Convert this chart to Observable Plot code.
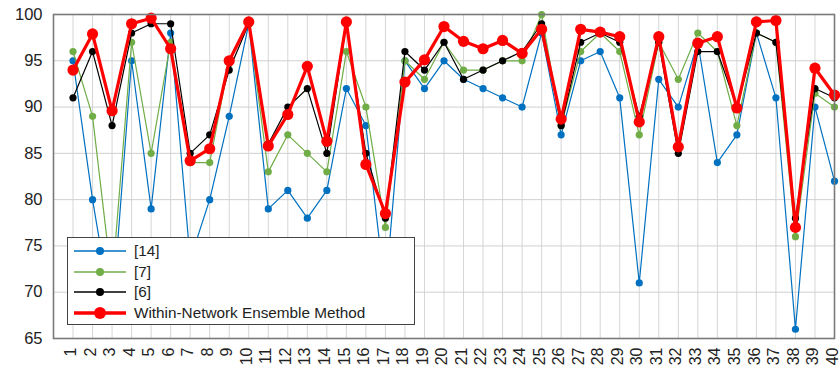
<!DOCTYPE html>
<html><head><meta charset="utf-8">
<script src="https://cdn.jsdelivr.net/npm/d3@7"></script>
<script src="https://cdn.jsdelivr.net/npm/@observablehq/plot@0.6"></script>
<style>
body{margin:0;background:#fff;font-family:"Liberation Sans",Arial,sans-serif;overflow:hidden;}
#wrap{position:relative;width:840px;height:370px;}
#wrap svg{overflow:visible;}
#legend{position:absolute;left:67px;top:237px;width:348px;height:88px;background:#fff;border:1px solid #444;box-sizing:border-box;}
.row{position:absolute;left:0;height:20px;display:flex;align-items:center;}
.row svg{display:block;margin-left:5px;}
.row span{margin-left:7px;font-size:15.3px;color:#222;white-space:nowrap;}
</style></head>
<body><div id="wrap"></div>
<script>
const categories = [1,2,3,4,5,6,7,8,9,10,11,12,13,14,15,16,17,18,19,20,21,22,23,24,25,26,27,28,29,30,31,32,33,34,35,36,37,38,39,40];
const s14 = [95,80,67.5,95,79,98,73.5,80,89,99,79,81,78,81,92,88,70,95,92,95,93,92,91,90,98,87,95,96,91,71,93,90,97,84,87,98,91,66,90,82];
const s7  = [96,89,71,97,85,97,84,84,95,99,83,87,85,83,96,90,77,95,93,97,94,94,95,95,100,88,96,98,96,87,97,93,98,96,88,98,97,76,91.5,90];
const s6  = [91,96,88,98,99,99,85,87,94,99,86,90,92,85,99,85,78,96,94,97,93,94,95,96,99,88,97,98,97,89,97,85,96,96,90,98,97,78,92,91];
const ens = [94,97.9,89.6,99,99.6,96.3,84.2,85.5,95,99.2,85.8,89.2,94.4,86.3,99.2,83.8,78.5,92.7,95.1,98.7,97.1,96.3,97.2,95.8,98.4,88.7,98.4,98.1,97.6,88.4,97.6,85.7,96.9,97.6,89.9,99.2,99.35,77,94.2,91.3];
const seriesNames = ["[14]","[7]","[6]","Within-Network Ensemble Method"];
const seriesColors = ["#0070C0","#70AD47","#000000","#FF0000"];
const yTicks = [65,70,75,80,85,90,95,100];

const allSeries = [s14, s7, s6, ens];
const lineWidths = [1.2, 1.2, 1.2, 3.2];
const dotRadii = [3.6, 3.6, 3.6, 5.6];

const marks = [
  Plot.gridX(categories, {stroke:"#d6d6d6", strokeOpacity:1, strokeWidth:1}),
  Plot.gridY(yTicks, {stroke:"#d0d0d0", strokeOpacity:1, strokeWidth:1}),
];
allSeries.forEach((vals, k) => {
  const data = categories.map((c, i) => ({c, v: vals[i]}));
  marks.push(Plot.line(data, {x:"c", y:"v", stroke: seriesColors[k], strokeWidth: lineWidths[k]}));
  marks.push(Plot.dot(data, {x:"c", y:"v", fill: seriesColors[k], r: dotRadii[k], stroke:"none"}));
});
marks.push(Plot.frame({stroke:"#7a7a7a", strokeWidth:1.6}));

const chart = Plot.plot({
  width: 840,
  height: 370,
  marginLeft: 53,
  marginRight: 6,
  marginTop: 14,
  marginBottom: 32,
  style: {fontFamily:'"Liberation Sans", Arial, sans-serif', background:"#fff", overflow:"visible"},
  x: {type:"linear", domain:[0,40], label:null},
  y: {domain:[65,100], label:null},
  marks: [
    ...marks,
    Plot.axisX({ticks: categories, tickFormat: d => String(d), tickRotate:-90, tickSize:0, tickPadding:9, dx:-2, label:null, fontSize:16, fill:"#222"}),
    Plot.axisY({ticks: yTicks, tickSize:0, tickPadding:11, label:null, fontSize:16.5, fill:"#222"})
  ]
});
document.getElementById("wrap").appendChild(chart);

// legend overlay (white box over the plot)
const legend = document.createElement("div");
legend.id = "legend";
const rowTops = [3, 24, 44, 65];
seriesNames.forEach((name, k) => {
  const row = document.createElement("div");
  row.className = "row";
  row.style.top = rowTops[k] + "px";
  row.innerHTML = `<svg width="54" height="20"><line x1="1" x2="53" y1="10" y2="10" stroke="${seriesColors[k]}" stroke-width="${k===3?3.6:1.3}"/><circle cx="27" cy="10" r="${k===3?6:4}" fill="${seriesColors[k]}"/></svg><span>${name}</span>`;
  legend.appendChild(row);
});
document.getElementById("wrap").appendChild(legend);
</script>
</body></html>
